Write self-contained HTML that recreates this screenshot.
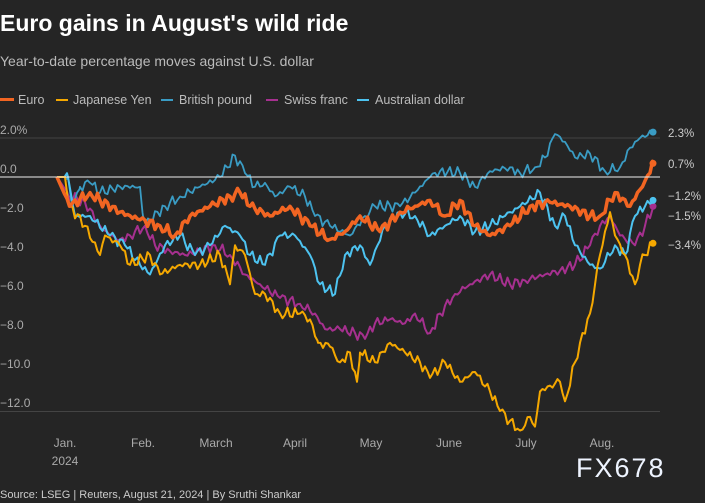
<!DOCTYPE html>
<html><head><meta charset="utf-8"><style>
html,body{margin:0;padding:0;background:#252525;}
body{width:705px;height:503px;overflow:hidden;font-family:"Liberation Sans",sans-serif;}
</style></head><body>
<svg id="s" width="705" height="503" xmlns="http://www.w3.org/2000/svg" style="display:block">
<rect width="705" height="503" fill="#252525"/>
<text x="0" y="31" fill="#fff" font-size="23" font-weight="bold">Euro gains in August's wild ride</text>
<text x="0" y="66" fill="#bbb" font-size="14">Year-to-date percentage moves against U.S. dollar</text>
<g font-size="12.5" fill="#bbb">
<rect x="0" y="98" width="14" height="3" fill="#f26522"/><text x="18" y="104">Euro</text>
<rect x="56" y="99" width="12" height="2" fill="#f5a800"/><text x="73" y="104">Japanese Yen</text>
<rect x="161" y="99" width="12" height="2" fill="#3a9cc4"/><text x="179" y="104">British pound</text>
<rect x="266" y="99" width="12" height="2" fill="#a6308f"/><text x="284" y="104">Swiss franc</text>
<rect x="357" y="99" width="12" height="2" fill="#4dc3f0"/><text x="375" y="104">Australian dollar</text>
</g>
<g font-size="12" fill="#aaa">
<text x="0" y="134">2.0%</text><text x="0" y="173">0.0</text>
<text x="0" y="212">−2.0</text><text x="0" y="251">−4.0</text><text x="0" y="290">−6.0</text>
<text x="0" y="329">−8.0</text><text x="0" y="368">−10.0</text><text x="0" y="407">−12.0</text>
</g>
<line x1="0" y1="138" x2="660" y2="138" stroke="#444" stroke-width="1"/>
<line x1="0" y1="411.5" x2="660" y2="411.5" stroke="#444" stroke-width="1"/>
<g font-size="12" fill="#aaa" text-anchor="middle">
<text x="65" y="447">Jan.</text><text x="65" y="465">2024</text>
<text x="143" y="447">Feb.</text><text x="216" y="447">March</text><text x="295" y="447">April</text>
<text x="371" y="447">May</text><text x="449" y="447">June</text><text x="526" y="447">July</text><text x="602" y="447">Aug.</text>
</g>
<g id="series"></g>
<line x1="0" y1="177" x2="660" y2="177" stroke="#eee" stroke-width="1"/>
<g font-size="11.5" fill="#ccc">
<text x="668" y="137">2.3%</text><text x="668" y="168">0.7%</text>
<text x="668" y="200">−1.2%</text><text x="668" y="220">−1.5%</text><text x="668" y="249">−3.4%</text>
</g>
<text x="576" y="477" fill="#eef4ff" font-size="27" letter-spacing="2">FX678</text>
<text x="0" y="498" fill="#ccc" font-size="11">Source: LSEG | Reuters, August 21, 2024 | By Sruthi Shankar</text>
</svg>
<script>
var Y=function(v){return 177-19.5*v;};
var S=[
["#a6308f",2,[57,0,70,-1,85,-1.3,100,-2.5,110,-3,120,-3.2,130,-3,145,-2.5,155,-3.5,170,-3.8,185,-4,200,-3.8,215,-3.5,230,-4,245,-5,260,-5.5,280,-6.2,300,-6.5,315,-7,325,-7.8,340,-7.8,355,-8,365,-8.3,375,-7.5,390,-7.3,405,-7.5,415,-7,430,-8,440,-7,455,-6,470,-5.5,490,-5,510,-5.5,525,-5.3,545,-5,560,-4.8,575,-4.5,590,-3.5,600,-2.5,610,-2,620,-3,635,-3.5,645,-2.5,653,-1.5]],
["#3a9cc4",1.8,[57,0,68,0,72,-1.5,80,-0.5,90,-0.3,100,-0.8,120,-0.5,140,-0.5,143,-2,150,-2.2,165,-1.5,180,-1,200,-0.5,220,0,235,1.1,245,0.2,255,-0.5,265,-0.3,275,-1,290,-0.5,305,-1,315,-2,330,-2.5,350,-3,365,-2,375,-1.5,400,-1.5,415,-0.8,430,0,440,0.3,460,0.2,475,-0.5,490,0.3,510,0.5,520,0.2,535,0.5,545,1,555,2.2,565,1.8,575,1,590,1.2,605,0.3,620,0.5,630,1.5,640,2,653,2.3]],
["#4dc3f0",2,[57,0,68,0,75,-2,90,-2,110,-3,125,-3.5,140,-4.5,150,-5,165,-3.5,180,-3,195,-4,210,-3.5,225,-2.5,240,-3,250,-4,265,-4.5,280,-3,295,-3,310,-4,320,-5.5,335,-6,345,-4,360,-3.5,370,-4.5,385,-2.5,400,-1.8,415,-2,430,-3,445,-2.5,460,-2,475,-2.8,490,-2.5,505,-2,520,-1.5,540,-0.8,555,-2.5,565,-2,575,-3.5,590,-4.5,600,-4.7,615,-3.5,625,-4,635,-2,645,-1.5,653,-1.2]],
["#f5a800",2,[57,0,65,0,70,-1.5,85,-2.5,100,-4,105,-3,120,-3.5,130,-4.5,150,-4,160,-5,180,-4.5,200,-4.5,220,-4,230,-5.5,235,-3.5,245,-4,255,-6,265,-6,280,-7,300,-7,310,-7.3,318,-8.5,330,-8.7,340,-9.5,350,-9,357,-10.5,360,-9,375,-9.5,390,-8.5,405,-9,420,-9.5,430,-10.3,445,-9.5,460,-10.5,475,-10,490,-11,500,-12,510,-12.5,520,-13,530,-12.3,535,-12.8,540,-11,550,-10.7,560,-10.5,565,-11.5,575,-9.5,580,-8.5,590,-7,600,-4,610,-1.8,615,-3,625,-4,635,-5.5,640,-4.5,645,-4,653,-3.4]],
["#f26522",3.5,[57,0,70,-1.5,90,-0.8,100,-1.2,120,-1.8,140,-2.2,160,-2.5,175,-3,190,-2,210,-1.5,230,-1,240,-0.8,250,-1.5,270,-2,290,-1.5,310,-2.5,330,-3.2,345,-2.8,360,-2,380,-2.8,400,-1.8,415,-1.5,430,-1.2,445,-2,460,-1.2,475,-2.5,490,-3,510,-2.5,530,-1.5,550,-1.3,570,-1.5,590,-2,600,-2,615,-0.8,630,-1.5,645,-0.2,653,0.7]]
];
var g=document.getElementById('series'),ns="http://www.w3.org/2000/svg";
S.forEach(function(s,k){var d=s[2],p=[];
for(var i=0;i<d.length-2;i+=2){var x0=d[i],v0=d[i+1],x1=d[i+2],v1=d[i+3];
for(var x=x0;x<x1;x+=2.5){var t=(x-x0)/(x1-x0),v=v0+(v1-v0)*t;
var n=(x>x0&&x>65)?0.18*Math.sin(x*1.7+k*3)+0.12*Math.sin(x*4.3+k):0;
p.push(x.toFixed(1)+','+Y(v+n).toFixed(1));}}
var n=d.length;p.push(d[n-2]+','+Y(d[n-1]).toFixed(1));
var l=document.createElementNS(ns,'polyline');l.setAttribute('points',p.join(' '));l.setAttribute('fill','none');
l.setAttribute('stroke',s[0]);l.setAttribute('stroke-width',s[1]);l.setAttribute('stroke-linejoin','round');g.appendChild(l);
var c=document.createElementNS(ns,'circle');c.setAttribute('cx',d[n-2]);c.setAttribute('cy',Y(d[n-1]));c.setAttribute('r',3.5);c.setAttribute('fill',s[0]);g.appendChild(c);});
</script>
</body></html>
